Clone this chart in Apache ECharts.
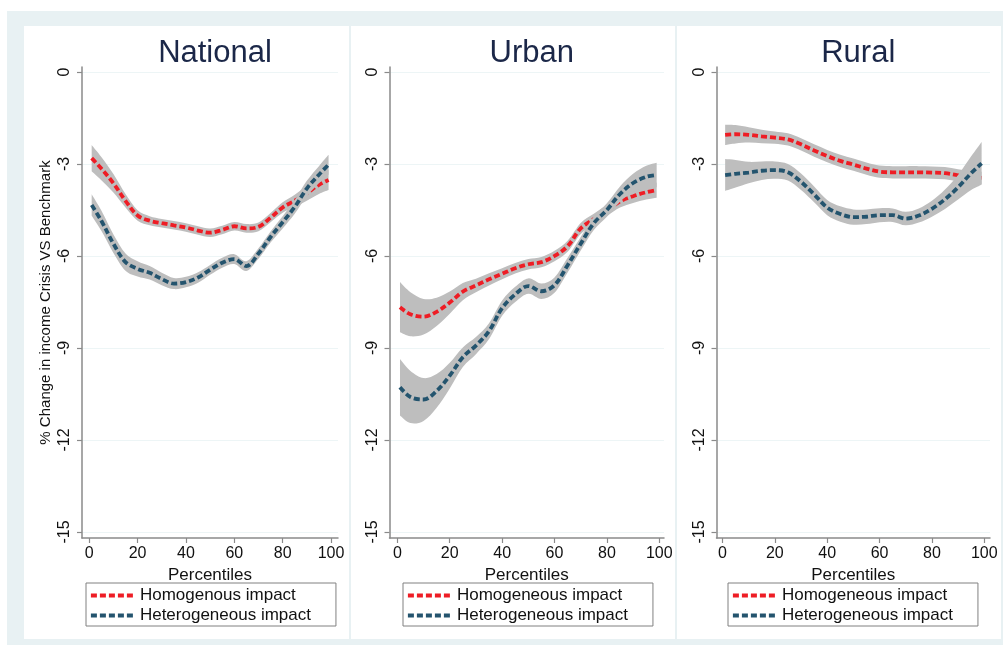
<!DOCTYPE html>
<html>
<head>
<meta charset="utf-8">
<script src="https://cdn.jsdelivr.net/npm/echarts@6/dist/echarts.min.js"></script>
<style>
html,body{margin:0;padding:0;background:#fff;}
#chart{width:1003px;height:647px;}
</style>
</head>
<body>
<div id="chart"></div>
<script>
// ---- data ----
var panelTitles = ['National', 'Urban', 'Rural'];
var xTicks = [0, 20, 40, 60, 80, 100];
var yTicks = [0, -3, -6, -9, -12, -15];
var pct = [1, 5, 10, 15, 20, 25, 30, 35, 40, 45, 50, 55, 60, 65, 70, 75, 80, 85, 90, 95, 99];

var natHom   = [-2.81, -3.15, -3.63, -4.2, -4.68, -4.85, -4.93, -5.0, -5.07, -5.17, -5.24, -5.15, -5.03, -5.1, -5.05, -4.75, -4.42, -4.2, -3.95, -3.68, -3.52];
var natHomCI = [0.43, 0.38, 0.3, 0.22, 0.17, 0.15, 0.14, 0.14, 0.14, 0.14, 0.14, 0.14, 0.14, 0.14, 0.14, 0.15, 0.17, 0.2, 0.25, 0.3, 0.33];
var natHet   = [-4.34, -4.85, -5.6, -6.2, -6.42, -6.55, -6.75, -6.9, -6.85, -6.7, -6.45, -6.22, -6.1, -6.33, -5.92, -5.38, -4.9, -4.4, -3.8, -3.35, -3.02];
var natHetCI = [0.35, 0.33, 0.3, 0.28, 0.25, 0.22, 0.2, 0.18, 0.17, 0.17, 0.16, 0.16, 0.16, 0.16, 0.17, 0.18, 0.2, 0.22, 0.25, 0.28, 0.32];

var urbHom   = [-7.67, -7.9, -7.98, -7.82, -7.52, -7.16, -6.96, -6.76, -6.58, -6.4, -6.27, -6.2, -6.0, -5.68, -5.1, -4.8, -4.52, -4.22, -4.05, -3.92, -3.85];
var urbHomCI = [0.82, 0.72, 0.58, 0.46, 0.36, 0.28, 0.22, 0.2, 0.18, 0.17, 0.17, 0.17, 0.17, 0.18, 0.18, 0.18, 0.18, 0.2, 0.22, 0.24, 0.25];
var urbHet   = [-10.28, -10.6, -10.68, -10.4, -9.9, -9.3, -8.92, -8.45, -7.7, -7.25, -6.98, -7.15, -6.95, -6.3, -5.6, -4.93, -4.5, -3.98, -3.62, -3.42, -3.36];
var urbHetCI = [0.92, 0.85, 0.7, 0.55, 0.42, 0.32, 0.28, 0.26, 0.25, 0.25, 0.25, 0.25, 0.25, 0.24, 0.22, 0.22, 0.22, 0.25, 0.3, 0.36, 0.4];

var rurHom   = [-2.05, -2.03, -2.05, -2.1, -2.14, -2.2, -2.36, -2.56, -2.74, -2.9, -3.02, -3.15, -3.25, -3.27, -3.27, -3.27, -3.28, -3.3, -3.37, -3.42, -3.45];
var rurHomCI = [0.33, 0.3, 0.25, 0.22, 0.2, 0.2, 0.2, 0.2, 0.2, 0.2, 0.2, 0.2, 0.2, 0.2, 0.2, 0.2, 0.2, 0.2, 0.2, 0.2, 0.2];
var rurHet   = [-3.36, -3.32, -3.28, -3.22, -3.2, -3.27, -3.58, -3.99, -4.42, -4.63, -4.73, -4.72, -4.67, -4.67, -4.78, -4.68, -4.46, -4.15, -3.76, -3.3, -2.98];
var rurHetCI = [0.52, 0.45, 0.35, 0.3, 0.28, 0.27, 0.27, 0.26, 0.25, 0.25, 0.25, 0.24, 0.23, 0.22, 0.22, 0.23, 0.26, 0.32, 0.4, 0.55, 0.7];

var homNames = ['Homogenous impact', 'Homogeneous impact', 'Homogeneous impact'];
var hetName = 'Heterogeneous impact';
var yAxisTitle = '% Change in income Crisis VS Benchmark';
var xAxisTitle = 'Percentiles';

// ---- styling / layout ----
var RED = '#ee1d25', BLUE = '#24546e', BAND = '#bebebe';
var FONT = '"Liberation Sans", Arial, Helvetica, sans-serif';
var DASH = [6, 3];
var grids = [
  {left: 82, width: 256, xmin: -3.0, xmax: 102.9},
  {left: 389.5, width: 274.5, xmin: -3.0, xmax: 101.8},
  {left: 716.5, width: 273.5, xmin: -2.3, xmax: 102.2}
];
var GRID_TOP = 67, GRID_H = 471;
var YMIN = -15.196, YMAX = 0.163;
var legendLeft = [86, 403, 728];

var panels = [
  {hom: natHom, homCI: natHomCI, het: natHet, hetCI: natHetCI},
  {hom: urbHom, homCI: urbHomCI, het: urbHet, hetCI: urbHetCI},
  {hom: rurHom, homCI: rurHomCI, het: rurHet, hetCI: rurHetCI}
];

function curvePath(pts) {
  var s = '';
  var k = 1 / 6;
  for (var i = 0; i < pts.length - 1; i++) {
    var p0 = pts[Math.max(i - 1, 0)], p1 = pts[i], p2 = pts[i + 1], p3 = pts[Math.min(i + 2, pts.length - 1)];
    var c1 = [p1[0] + (p2[0] - p0[0]) * k, p1[1] + (p2[1] - p0[1]) * k];
    var c2 = [p2[0] - (p3[0] - p1[0]) * k, p2[1] - (p3[1] - p1[1]) * k];
    s += 'C' + c1[0] + ',' + c1[1] + ' ' + c2[0] + ',' + c2[1] + ' ' + p2[0] + ',' + p2[1];
  }
  return s;
}

function bandSeries(g, mid, ci, z) {
  return {
    type: 'custom', xAxisIndex: g, yAxisIndex: g, z: z, silent: true, clip: true,
    data: [[pct[0], mid[0]]],
    renderItem: function (params, api) {
      var up = pct.map(function (x, i) { return api.coord([x, mid[i] + ci[i]]); });
      var lo = pct.map(function (x, i) { return api.coord([x, mid[i] - ci[i]]); }).reverse();
      var d = 'M' + up[0][0] + ',' + up[0][1] + curvePath(up) +
              'L' + lo[0][0] + ',' + lo[0][1] + curvePath(lo) + 'Z';
      return {type: 'path', shape: {pathData: d}, style: {fill: BAND, stroke: null}};
    }
  };
}

function lineSeries(g, name, vals, color, z) {
  return {
    type: 'line', name: name, xAxisIndex: g, yAxisIndex: g, z: z,
    data: pct.map(function (x, i) { return [x, vals[i]]; }),
    smooth: 0.35, symbol: 'none', showSymbol: false, silent: true,
    color: color,
    lineStyle: {color: color, width: 3.8, type: DASH},
    itemStyle: {color: color}
  };
}

var option = {
  backgroundColor: '#ffffff',
  animation: false,
  graphic: [
    {type: 'rect', z: -100, silent: true, shape: {x: 7, y: 11, width: 996, height: 634}, style: {fill: '#e8f1f3'}},
    {type: 'rect', z: -99, silent: true, shape: {x: 24, y: 26, width: 325, height: 613}, style: {fill: '#ffffff'}},
    {type: 'rect', z: -99, silent: true, shape: {x: 351, y: 26, width: 324, height: 613}, style: {fill: '#ffffff'}},
    {type: 'rect', z: -99, silent: true, shape: {x: 677, y: 26, width: 324, height: 613}, style: {fill: '#ffffff'}}
  ],
  title: [], grid: [], xAxis: [], yAxis: [], legend: [], series: []
};

grids.forEach(function (g, i) {
  option.title.push({
    text: panelTitles[i], left: g.left + g.width / 2, top: 33, textAlign: 'center',
    textStyle: {fontFamily: FONT, fontSize: 31, fontWeight: 'normal', color: '#1b2748'}
  });
  option.grid.push({left: g.left, top: GRID_TOP, width: g.width, height: GRID_H, containLabel: false});
  option.xAxis.push({
    type: 'value', gridIndex: i, min: g.xmin, max: g.xmax,
    name: xAxisTitle, nameLocation: 'middle', nameGap: 21,
    nameTextStyle: {fontFamily: FONT, fontSize: 17, color: '#111'},
    axisLine: {show: true, onZero: false, lineStyle: {color: '#8a8a8a', width: 1.5}},
    axisTick: {show: true, length: 5, customValues: xTicks, lineStyle: {color: '#8a8a8a', width: 1.2}},
    axisLabel: {customValues: xTicks, margin: 8, fontFamily: FONT, fontSize: 16, color: '#111'},
    splitLine: {show: false}
  });
  option.yAxis.push({
    type: 'value', gridIndex: i, min: YMIN, max: YMAX,
    name: i === 0 ? yAxisTitle : '', nameLocation: 'middle', nameGap: 29, nameRotate: 90,
    nameTextStyle: {fontFamily: FONT, fontSize: 15, color: '#111'},
    axisLine: {show: true, onZero: false, lineStyle: {color: '#8a8a8a', width: 1.5}},
    axisTick: {show: true, length: 5, customValues: yTicks, lineStyle: {color: '#8a8a8a', width: 1.2}},
    axisLabel: {customValues: yTicks, rotate: 90, margin: 9, fontFamily: FONT, fontSize: 16, color: '#111'},
    splitLine: {show: true, lineStyle: {color: '#edf5f6', width: 1.2}}
  });
  var p = panels[i];
  option.series.push(bandSeries(i, p.hom, p.homCI, 2));
  option.series.push(lineSeries(i, homNames[i], p.hom, RED, 3));
  option.series.push(bandSeries(i, p.het, p.hetCI, 4));
  option.series.push(lineSeries(i, hetName, p.het, BLUE, 5));
  option.legend.push({
    data: [homNames[i], hetName], orient: 'vertical', left: legendLeft[i], top: 583,
    selectedMode: false, itemWidth: 44, itemHeight: 14, itemGap: 3,
    itemStyle: {opacity: 0},
    lineStyle: {width: 3.8, type: DASH},
    padding: [4, 25, 2, 3], borderColor: '#808080', borderWidth: 1, backgroundColor: '#fff',
    textStyle: {fontFamily: FONT, fontSize: 17, color: '#111'}
  });
});

var chart = echarts.init(document.getElementById('chart'), null, {renderer: 'canvas'});
chart.setOption(option);
</script>
</body>
</html>
